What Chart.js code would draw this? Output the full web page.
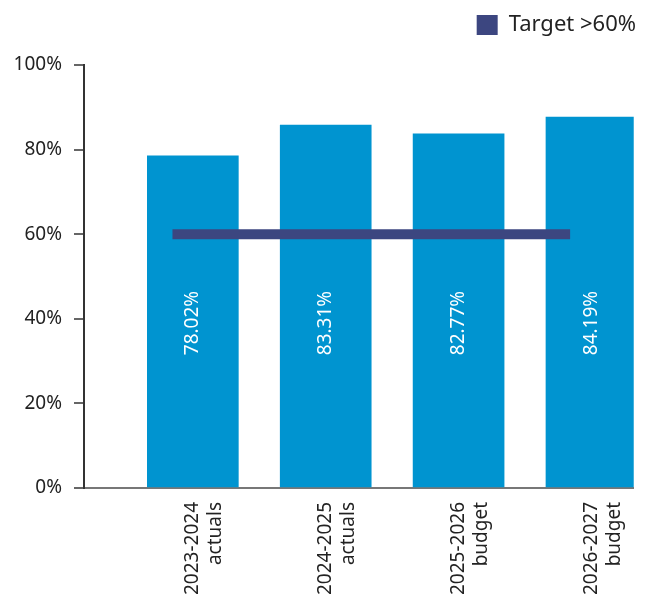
<!DOCTYPE html>
<html>
<head>
<meta charset="utf-8">
<script src="https://cdn.jsdelivr.net/npm/chart.js@4/dist/chart.umd.min.js"></script>
<style>
  html, body { margin: 0; padding: 0; background: #fff; }
  #wrap { width: 652px; height: 598px; }
</style>
</head>
<body>
<div id="wrap"><canvas id="c" width="652" height="598"></canvas></div>
<script>
const categories = [["2023-2024", "actuals"], ["2024-2025", "actuals"], ["2025-2026", "budget"], ["2026-2027", "budget"]];
const barValues = [78.5, 85.8, 83.7, 87.7];
const barLabels = ["78.02%", "83.31%", "82.77%", "84.19%"];
const targetValues = [60, 60, 60, 60];
const yTicks = [0, 20, 40, 60, 80, 100];
const labelLevel = 39;

const FONT = "'Noto Sans', 'Open Sans', sans-serif";
const BAR_COLOR = "#0094d0";
const LINE_COLOR = "#3c4680";

const barLabelPlugin = {
  id: "barLabels",
  afterDatasetsDraw(chart) {
    const meta = chart.getDatasetMeta(0);
    const yScale = chart.scales.y;
    const ctx = chart.ctx;
    ctx.save();
    ctx.fillStyle = "#ffffff";
    ctx.font = "19px " + FONT;
    ctx.textAlign = "center";
    ctx.textBaseline = "middle";
    meta.data.forEach((el, i) => {
      ctx.save();
      ctx.translate(el.x, yScale.getPixelForValue(labelLevel));
      ctx.rotate(-Math.PI / 2);
      ctx.fillText(barLabels[i], 0, 0);
      ctx.restore();
    });
    ctx.restore();
  }
};

const legendSpacePlugin = {
  id: "legendSpace",
  beforeLayout(chart) {
    const lg = chart.legend;
    if (lg && !lg._patched) {
      const orig = lg.fit;
      lg.fit = function () { orig.call(this); this.height += 19; };
      lg._patched = true;
    }
  }
};

new Chart(document.getElementById("c"), {
  data: {
    datasets: [
      {
        type: "bar",
        label: "Value",
        data: barValues.map((v, i) => ({ x: i, y: v })),
        backgroundColor: BAR_COLOR,
        borderWidth: 0,
        grouped: false,
        barThickness: 91,
        xAxisID: "x",
        order: 2
      },
      {
        type: "line",
        label: "Target >60%",
        data: targetValues.map((v, i) => ({ x: i, y: v })),
        borderColor: LINE_COLOR,
        backgroundColor: LINE_COLOR,
        borderWidth: 10,
        borderCapStyle: "butt",
        pointRadius: 0,
        xAxisID: "x2",
        order: 1
      }
    ]
  },
  options: {
    responsive: false,
    animation: false,
    devicePixelRatio: 1,
    layout: { padding: { left: 0, right: 12, top: 10, bottom: 0 } },
    plugins: {
      legend: {
        display: true,
        position: "top",
        align: "end",
        labels: {
          boxWidth: 21,
          boxHeight: 20,
          padding: 4,
          color: "#222",
          font: { family: FONT, size: 22 },
          generateLabels: (chart) => [{
            text: "Target >60%",
            fillStyle: LINE_COLOR,
            strokeStyle: LINE_COLOR,
            lineWidth: 0,
            datasetIndex: 1,
            fontColor: "#222"
          }]
        }
      },
      tooltip: { enabled: false }
    },
    scales: {
      x: {
        type: "linear",
        offset: false,
        min: -0.819,
        max: 3.318,
        afterBuildTicks: (scale) => { scale.ticks = categories.map((c, i) => ({ value: i })); },
        ticks: {
          autoSkip: false,
          minRotation: 90,
          maxRotation: 90,
          padding: 14,
          color: "#222",
          font: { family: FONT, size: 19 },
          callback: (v) => categories[v]
        },
        grid: { display: false, drawTicks: false, offset: false },
        border: { display: true, color: "#777", width: 2 },
        afterFit: (scale) => { scale.height = 110; }
      },
      x2: {
        type: "linear",
        display: false,
        offset: false,
        min: -0.6675,
        max: 3.48
      },
      y: {
        min: 0,
        max: 100,
        afterBuildTicks: (scale) => { scale.ticks = yTicks.map(v => ({ value: v })); },
        ticks: {
          color: "#222",
          padding: 12,
          font: { family: FONT, size: 19 },
          callback: (v) => v + "%"
        },
        grid: { drawOnChartArea: false, drawTicks: true, tickLength: 10, color: "#666", lineWidth: 2 },
        border: { display: true, color: "#333", width: 2 },
        afterFit: (scale) => { scale.width = 84; }
      }
    }
  },
  plugins: [barLabelPlugin, legendSpacePlugin]
});
</script>
</body>
</html>
